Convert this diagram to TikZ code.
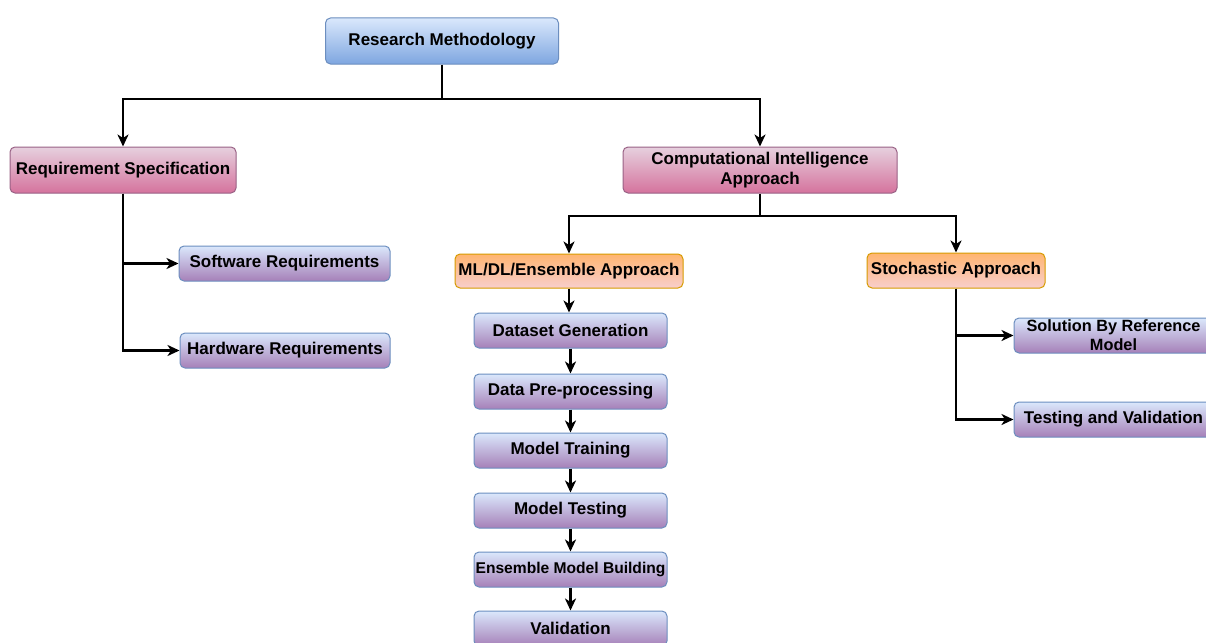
\documentclass[tikz,border=0pt]{standalone}
\usepackage{fontspec}
\setmainfont{Liberation Sans}
\usetikzlibrary{arrows.meta, positioning}
\definecolor{bluetop}{HTML}{DAE8FC}
\definecolor{bluebot}{HTML}{7EA6E0}
\definecolor{blueline}{HTML}{6C8EBF}
\definecolor{pinktop}{HTML}{E6D0DE}
\definecolor{pinkbot}{HTML}{D5739D}
\definecolor{pinkline}{HTML}{996185}
\definecolor{orangetop}{HTML}{FFB570}
\definecolor{orangebot}{HTML}{F8CECC}
\definecolor{orangeline}{HTML}{D79B00}
\definecolor{purpletop}{HTML}{DAE8FC}
\definecolor{purplebot}{HTML}{A680B8}

\begin{document}
\begin{tikzpicture}[x=1pt, y=-1pt,
  box/.style={rounded corners=5pt, line width=1pt, inner sep=0pt, align=center,
    font=\bfseries\fontsize{17}{20}\selectfont},
  bluebox/.style={box, draw=blueline, top color=bluetop, bottom color=bluebot},
  pinkbox/.style={box, draw=pinkline, top color=pinktop, bottom color=pinkbot},
  orangebox/.style={box, draw=orangeline, top color=orangetop, bottom color=orangebot},
  purplebox/.style={box, draw=blueline, top color=purpletop, bottom color=purplebot},
  arr/.style={-{Stealth[length=12pt, width=11pt, inset=3.5pt]}, line width=2.5pt},
]
  % Page
  \useasboundingbox[fill=white] (0,0) rectangle (1206,642);

  % Top levels
  \node[bluebox, minimum width=233pt, minimum height=46pt] (rm) at (442,41) {Research Methodology};
  \node[pinkbox, minimum width=226pt, minimum height=46pt] (rs) at (123,170) {Requirement Specification};
  \node[pinkbox, minimum width=274pt, minimum height=46pt] (ci) at (760,170) {Computational Intelligence\\Approach};

  % Requirements
  \node[purplebox, minimum width=211pt, minimum height=35pt] (sw) at (284.5,263.5) {Software Requirements};
  \node[purplebox, minimum width=210pt, minimum height=35pt] (hw) at (285,350.5) {Hardware Requirements};

  % Approaches
  \node[orangebox, minimum width=228pt, minimum height=34pt] (ml) at (569,271) {ML/DL/Ensemble Approach};
  \node[orangebox, minimum width=178pt, minimum height=35pt] (sa) at (956,270.5) {Stochastic Approach};

  % ML/DL pipeline
  \node[purplebox, minimum width=193pt, minimum height=35pt] (ds) at (570.5,330.5) {Dataset Generation};
  \node[purplebox, minimum width=193pt, minimum height=35pt] (dp) at (570.5,391.5) {Data Pre-processing};
  \node[purplebox, minimum width=193pt, minimum height=35pt] (mt) at (570.5,450.5) {Model Training};
  \node[purplebox, minimum width=193pt, minimum height=35pt] (mte) at (570.5,510.5) {Model Testing};
  \node[purplebox, minimum width=193pt, minimum height=35pt, font=\bfseries\fontsize{15.6}{19}\selectfont] (eb) at (570.5,569.5) {Ensemble Model Building};
  \node[purplebox, minimum width=193pt, minimum height=35pt] (va) at (570.5,628.5) {Validation};

  % Stochastic branch
  \node[purplebox, minimum width=199pt, minimum height=35pt, font=\bfseries\fontsize{16.3}{19}\selectfont] (sol) at (1113.5,335.5) {Solution By Reference\\Model};
  \node[purplebox, minimum width=199pt, minimum height=35pt] (tv) at (1113.5,419.5) {Testing and Validation};

  % Connectors
  \coordinate (rmsplit) at (442,99);
  \coordinate (cisplit) at (760,216);
  \draw[line width=2.5pt] (rm.south) -- (rmsplit);
  \draw[arr] (rmsplit) -| (rs.north);
  \draw[arr] (rmsplit) -| (ci.north);

  \draw[arr] (rs.south) |- (sw.west);
  \draw[arr] (rs.south) |- (hw.west);

  \draw[line width=2.5pt] (ci.south) -- (cisplit);
  \draw[arr] (cisplit) -| (ml.north);
  \draw[arr] (cisplit) -| (sa.north);

  \foreach \a/\b in {ml/ds, ds/dp, dp/mt, mt/mte, mte/eb, eb/va} {
    \draw[arr] (\a.south) -- (\a.south |- \b.north);
  }

  \draw[arr] (sa.south) |- (sol.west);
  \draw[arr] (sa.south) |- (tv.west);

\end{tikzpicture}
\end{document}
